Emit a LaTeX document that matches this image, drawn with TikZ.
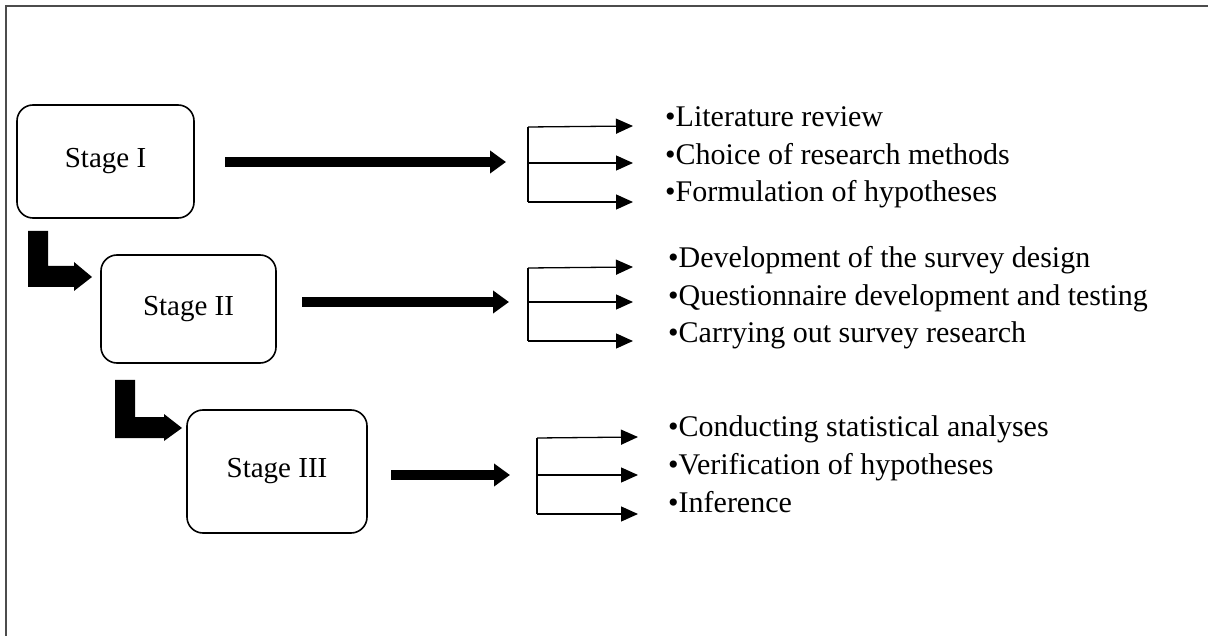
\documentclass[tikz,border=0pt]{standalone}
\usepackage{fontspec}
\setmainfont{Liberation Serif}
\usetikzlibrary{arrows.meta}
\begin{document}
\begin{tikzpicture}[x=1pt,y=-1pt,
  stagebox/.style={draw, line width=1.6pt, rounded corners=16pt, font=\fontsize{29}{33}\selectfont},
  item/.style={anchor=base west, inner sep=0pt, font=\fontsize{30}{34}\selectfont},
  bigarrow/.style={line width=10pt, -{Triangle[length=16pt,width=22pt]}},
  thin/.style={line width=1.3pt},
  tip/.style={line width=1.3pt, -{Triangle[length=17pt,width=15pt]}}]
\useasboundingbox (0,0) rectangle (1208,636);
\draw[line width=1.5pt, gray!60!black] (6,636) -- (6,6) -- (1208,6);

% stage boxes
\node[stagebox, minimum width=177pt, minimum height=113pt] (s1) at (105.5,161.5) {Stage I};
\node[stagebox, minimum width=175pt, minimum height=108pt] (s2) at (188.5,309) {Stage II};
\node[stagebox, minimum width=180pt, minimum height=123pt] (s3) at (277,471.5) {Stage III};

% L-shaped arrows
\fill (28,231) -- (48,231) -- (48,266) -- (74,266) -- (74,262) -- (92,277) -- (74,291) -- (74,287) -- (28,287) -- cycle;
\fill (115,380) -- (135,380) -- (135,417) -- (164,417) -- (164,414) -- (182,428) -- (164,441) -- (164,438) -- (115,438) -- cycle;

% big arrows
\coordinate (a1s) at (225,162); \coordinate (a1e) at (506,162);
\coordinate (a2s) at (302,302); \coordinate (a2e) at (509,302);
\coordinate (a3s) at (391,475); \coordinate (a3e) at (510,475);
\draw[bigarrow] (a1s) -- (a1e);
\draw[bigarrow] (a2s) -- (a2e);
\draw[bigarrow] (a3s) -- (a3e);

% brackets
\coordinate (b1t) at (528,127); \coordinate (b1m) at (528,163); \coordinate (b1b) at (528,202);
\coordinate (e1t) at (633,126); \coordinate (e1m) at (633,163); \coordinate (e1b) at (633,202);
\draw[thin] (b1t) -- (b1b);
\draw[tip] (b1t) -- (e1t);
\draw[tip] (b1m) -- (e1m);
\draw[tip] (b1b) -- (e1b);

\coordinate (b2t) at (528,268); \coordinate (b2m) at (528,302); \coordinate (b2b) at (528,341);
\coordinate (e2t) at (633,267); \coordinate (e2m) at (633,302); \coordinate (e2b) at (633,341);
\draw[thin] (b2t) -- (b2b);
\draw[tip] (b2t) -- (e2t);
\draw[tip] (b2m) -- (e2m);
\draw[tip] (b2b) -- (e2b);

\coordinate (b3t) at (537,438); \coordinate (b3m) at (537,475); \coordinate (b3b) at (537,514);
\coordinate (e3t) at (638,437); \coordinate (e3m) at (638,475); \coordinate (e3b) at (638,514);
\draw[thin] (b3t) -- (b3b);
\draw[tip] (b3t) -- (e3t);
\draw[tip] (b3m) -- (e3m);
\draw[tip] (b3b) -- (e3b);

% items
\node[item] (t11) at (665,127) {•Literature review};
\node[item] (t12) at (665,165) {•Choice of research methods};
\node[item] (t13) at (665,202) {•Formulation of hypotheses};
\node[item] (t21) at (668,268) {•Development of the survey design};
\node[item] (t22) at (668,306) {•Questionnaire development and testing};
\node[item] (t23) at (668,343) {•Carrying out survey research};
\node[item] (t31) at (668,436) {•Conducting statistical analyses};
\node[item] (t32) at (668,474) {•Verification of hypotheses};
\node[item] (t33) at (668,512) {•Inference};
\end{tikzpicture}
\end{document}
